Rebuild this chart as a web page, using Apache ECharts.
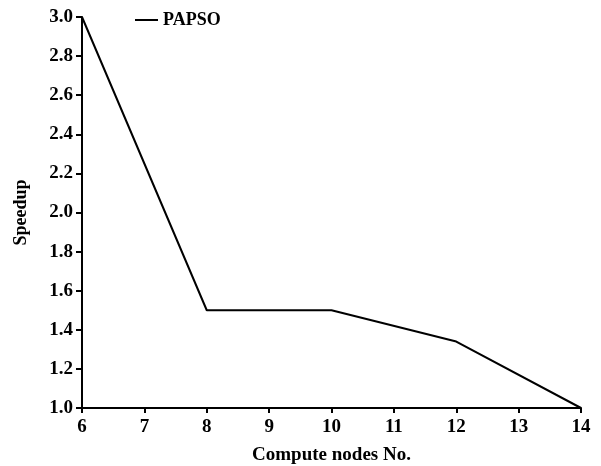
<!DOCTYPE html>
<html><head><meta charset="utf-8">
<script src="https://cdn.jsdelivr.net/npm/echarts@6/dist/echarts.min.js"></script>
<style>html,body{margin:0;padding:0;background:#fff}#c{width:601px;height:466px}</style>
</head><body><div id="c"></div>
<script>
const nodes = [6, 8, 10, 12, 14];
const speedup = [3.0, 1.5, 1.5, 1.34, 1.0];
const seriesName = 'PAPSO';
const xName = 'Compute nodes No.';
const yName = 'Speedup';

const font = '"Liberation Serif", "DejaVu Serif", serif';
const chart = echarts.init(document.getElementById('c'));
chart.setOption({
  animation: false,
  backgroundColor: '#fff',
  grid: {left: 82, right: 20, top: 17, bottom: 58, containLabel: false, outerBoundsMode: 'none'},
  legend: {
    data: [seriesName], left: 130, top: 6, itemWidth: 23, itemHeight: 2, itemGap: 8,
    icon: 'rect',
    textStyle: {fontFamily: font, fontSize: 18, fontWeight: 'bold', color: '#000'}
  },
  xAxis: {
    type: 'value', min: 6, max: 14, interval: 1,
    name: xName, nameLocation: 'middle', nameGap: 38,
    nameTextStyle: {fontFamily: font, fontSize: 19, fontWeight: 'bold', color: '#000'},
    axisLine: {lineStyle: {color: '#000', width: 2}},
    axisTick: {show: true, length: 5, lineStyle: {color: '#000', width: 2}},
    axisLabel: {fontFamily: font, fontSize: 19, fontWeight: 'bold', color: '#000', margin: 10},
    splitLine: {show: false}
  },
  yAxis: {
    type: 'value', min: 1.0, max: 3.0, interval: 0.2,
    name: yName, nameLocation: 'middle', nameGap: 52, nameRotate: 90,
    nameTextStyle: {fontFamily: font, fontSize: 18, fontWeight: 'bold', color: '#000'},
    axisLine: {show: true, lineStyle: {color: '#000', width: 2}},
    axisTick: {show: true, length: 6, lineStyle: {color: '#000', width: 2}},
    axisLabel: {fontFamily: font, fontSize: 19, fontWeight: 'bold', color: '#000', margin: 9,
      formatter: v => v.toFixed(1)},
    splitLine: {show: false}
  },
  series: [{
    name: seriesName, type: 'line', symbol: 'none',
    data: nodes.map((n, i) => [n, speedup[i]]),
    lineStyle: {color: '#000', width: 2},
    itemStyle: {color: '#000'}
  }]
});
</script></body></html>
